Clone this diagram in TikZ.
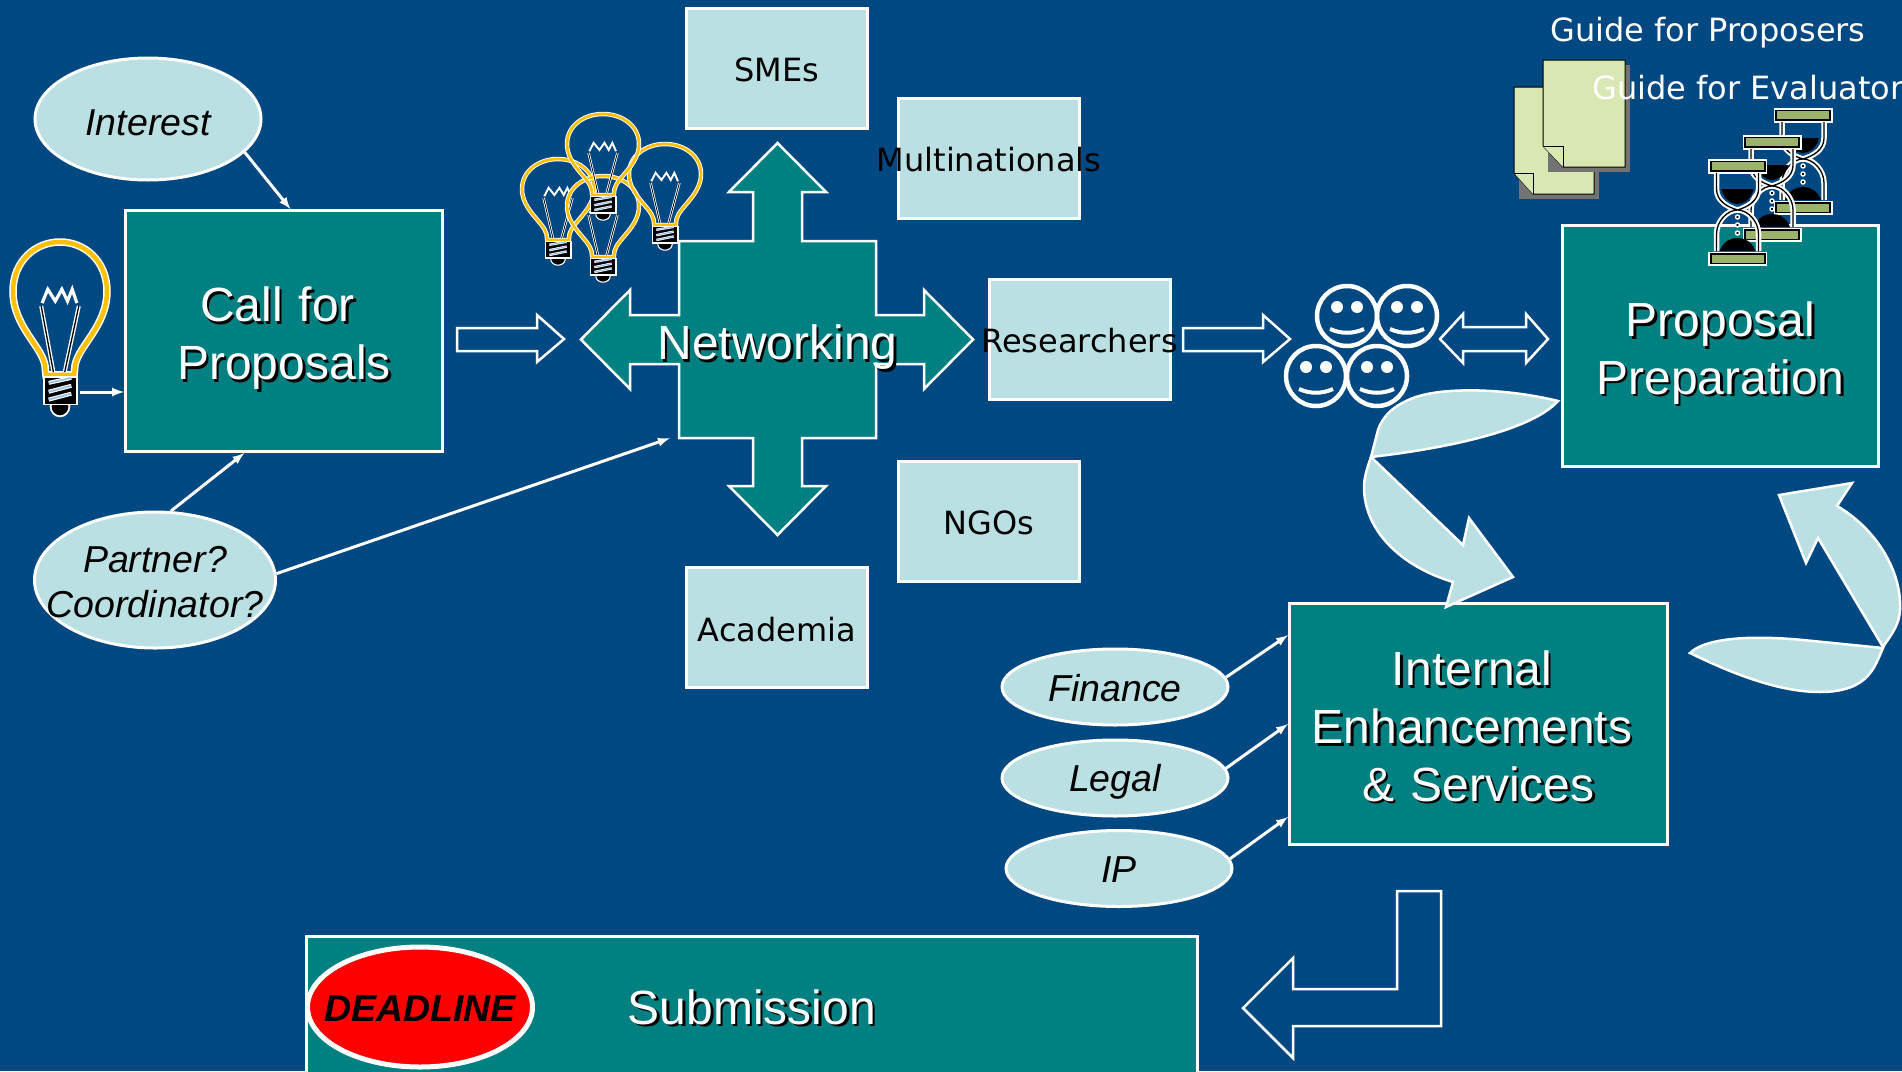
\documentclass[tikz,border=0pt]{standalone}
\usepackage{fontspec}
\setmainfont{Liberation Sans}
\newfontfamily\dejavu{DejaVu Sans}
\usepackage{xcolor}
\definecolor{deep-blue}{HTML}{004882}
\definecolor{deep-teal}{HTML}{008080}
\definecolor{pale-blue}{HTML}{BBE0E3}
\definecolor{pale-leaf}{HTML}{D9E8B3}
\definecolor{bar-green}{HTML}{9BB36B}
\definecolor{bulb-yellow}{HTML}{FFC000}
\definecolor{thread-blue}{HTML}{9DC3E6}
\usetikzlibrary{shapes.geometric}
\usetikzlibrary{positioning}
\usetikzlibrary{calc}
\tikzset{tealbox/.style = {draw=white, fill=deep-teal, line width=3, inner sep=0}}
\tikzset{palebox/.style = {draw=white, fill=pale-blue, line width=3, inner sep=0, minimum width=181, minimum height=120}}
\tikzset{paleoval/.style = {draw=white, fill=pale-blue, line width=3, inner sep=0, ellipse}}
\tikzset{boxtext/.style = {inner sep=0, align=center, font=\dejavu\fontsize{32}{38}\selectfont}}
\tikzset{ovaltext/.style = {inner sep=0, align=center, font=\itshape\fontsize{37.5}{45}\selectfont}}
\tikzset{bigtext/.style = {inner sep=0, align=center, text width=400, font=\fontsize{48}{57.6}\selectfont}}
\tikzset{guidetext/.style = {inner sep=0, text=white, font=\dejavu\fontsize{32}{38}\selectfont}}
\tikzset{arr/.style = {draw=white, line width=3, -latex}}
\tikzset{hollow/.style = {draw=white, line width=2.5, line join=miter}}
\tikzset{leaf/.style = {draw=white, fill=pale-blue, line width=2.5}}
\tikzset{page/.style = {draw=black, fill=pale-leaf, line width=1}}
\newcommand{\shadowed}[4]{
  \node[bigtext, text=black] (#1-shade) at ($(#2)+(2.5,#3+2.5)$) {#4};
  \node[bigtext, text=white] (#1) at ($(#2)+(0,#3)$) {#4};
}
\tikzset{pics/bulb/.style = {code = {
  \draw[white, line width=7.5*#1] (-15,135) -- (-16,125) .. controls (-20,105) and (-50,85) .. (-50,50)
    .. controls (-50,20) and (-27,0) .. (0,0) .. controls (27,0) and (50,20) .. (50,50)
    .. controls (50,85) and (20,105) .. (16,125) -- (15,135) -- cycle;
  \draw[bulb-yellow, line width=4.5*#1] (-15,135) -- (-16,125) .. controls (-20,105) and (-50,85) .. (-50,50)
    .. controls (-50,20) and (-27,0) .. (0,0) .. controls (27,0) and (50,20) .. (50,50)
    .. controls (50,85) and (20,105) .. (16,125) -- (15,135) -- cycle;
  \draw[white, line width=4*#1] (-20,65) -- (-7,132) (20,65) -- (5,132);
  \draw[black, line width=1.3*#1] (-20,65) -- (-7,132) (20,65) -- (5,132);
  \draw[white, line width=3.2*#1] (-19,62) -- (-13,48) -- (-5,60) -- (2,48) -- (8,60) -- (13,48) -- (18,62);
  \draw[white, fill=black, line width=1.8*#1] (0,167) circle (10);
  \draw[white, fill=black, line width=1.8*#1] (-17,137) rectangle (18,165);
  \draw[white, line width=4*#1] (-12,143) -- (12,138) (-12,152) -- (12,146) (-12,160) -- (12,154);
  \draw[thread-blue, line width=1.8*#1] (-12,143) -- (12,138) (-12,152) -- (12,146) (-12,160) -- (12,154);
}}}
\tikzset{pics/glass/.style = {code = {
  \foreach \bary in {0,92.5} {
    \fill[white] (-29.5,\bary) rectangle (29.5,\bary+14.5);
    \fill[black] (-28,\bary+1.8) rectangle (28,\bary+12.7);
    \fill[bar-green] (-26,\bary+3.4) rectangle (26,\bary+11.1);
  }
  \draw[white, line width=5.5] (-21,14) -- (-21,30) .. controls (-21,42) and (-10,48) .. (0,51)
    .. controls (10,48) and (21,42) .. (21,30) -- (21,14)
    (-21,92) -- (-21,75) .. controls (-21,62) and (-10,51) .. (0,51) .. controls (10,51) and (21,62) .. (21,75) -- (21,92);
  \draw[black, line width=1.3] (-21,14) -- (-21,30) .. controls (-21,42) and (-10,48) .. (0,51)
    .. controls (10,48) and (21,42) .. (21,30) -- (21,14)
    (-21,92) -- (-21,75) .. controls (-21,62) and (-10,51) .. (0,51) .. controls (10,51) and (21,62) .. (21,75) -- (21,92);
  \fill[black] (-16,30) -- (16,30) .. controls (14,40) and (6,45) .. (0,45) .. controls (-6,45) and (-14,40) .. (-16,30);
  \fill[black] (-18,92) .. controls (-14,82) and (-7,79) .. (0,79) .. controls (7,79) and (14,82) .. (18,92) -- cycle;
  \draw[white, fill=black, line width=1.4] (0,58) circle (2) (0,66) circle (2) (0,74) circle (2);
}}}
\tikzset{pics/smiley/.style = {code = {
  \draw[white, line width=4.5] (0,0) circle (30);
  \fill[white] (-10,-9) circle (6) (10,-9) circle (6);
  \draw[white, line width=4] (-17,13) .. controls (-6,18) and (6,18) .. (17,13);
}}}

\begin{document}
\begin{tikzpicture}[x=1pt, y=-1pt]
\useasboundingbox (0,0) rectangle (1902,1071);
\fill[deep-blue] (0,0) rectangle (1902,1071);

% left column
\node[paleoval, minimum width=226, minimum height=122] (interest) at (148,119) {};
\node[ovaltext] (interest-text) at ($(interest)+(0,3.5)$) {Interest};
\node[tealbox, minimum width=317, minimum height=241] (call) at (284,331) {};
\shadowed{call-text}{call}{7.3}{\mbox{Call for\hspace{13pt}}\\Proposals}
\node[paleoval, minimum width=241, minimum height=136] (partner) at (155,580) {};
\node[ovaltext] (partner-text) at ($(partner)+(0,2.5)$) {Partner?\\Coordinator?};
\pic[xscale=.94, yscale=.985] at (60,242) {bulb=1};
\coordinate (bulbfoot) at (80,392);

% networking cross
\draw[draw=white, fill=deep-teal, line width=2.5] (777.5,143) -- (826,192) -- (802,192) -- (802,241) -- (876,241) -- (876,315)
  -- (924,315) -- (924,290) -- (973,339.5) -- (924,389) -- (924,364) -- (876,364) -- (876,438) -- (802,438) -- (802,486)
  -- (826,486) -- (777.5,535) -- (729,486) -- (753,486) -- (753,438) -- (679,438) -- (679,364) -- (630,364) -- (630,389)
  -- (581,339.5) -- (630,290) -- (630,315) -- (679,315) -- (679,241) -- (753,241) -- (753,192) -- (729,192) -- cycle;
\node[minimum width=197, minimum height=197, inner sep=0] (net) at (777.5,339.5) {};
\shadowed{net-text}{net}{8}{Networking}
\pic[xscale=.72, yscale=.6] at (558,159) {bulb=.6};
\pic[xscale=.72, yscale=.6] at (603,176) {bulb=.6};
\pic[xscale=.72, yscale=.6] at (665,144) {bulb=.6};
\pic[xscale=.72, yscale=.6] at (603,114) {bulb=.6};

\node[palebox] (smes) at (777,68) {};
\node[boxtext] (smes-text) at ($(smes)+(0,1.4)$) {SMEs};
\node[palebox] (multi) at (989,158) {};
\node[boxtext] (multi-text) at (989,160) {Multinationals};
\node[palebox] (researchers) at (1079.5,339) {};
\node[boxtext] (researchers-text) at ($(researchers)+(0,1.4)$) {Researchers};
\node[palebox] (ngos) at (989,521.5) {};
\node[boxtext] (ngos-text) at ($(ngos)+(0,1.5)$) {NGOs};
\node[palebox] (academia) at (777,627) {};
\node[boxtext] (academia-text) at ($(academia)+(0,2.4)$) {Academia};

% right side
\pic at (1347,316) {smiley};
\pic at (1407,316) {smiley};
\pic at (1316,376) {smiley};
\pic at (1377,376) {smiley};
\node[tealbox, minimum width=316, minimum height=241] (proposal) at (1720.5,346) {};
\shadowed{proposal-text}{proposal}{7}{Proposal\\Preparation}

\fill[gray!90!black] (1518.5,91.5) rectangle (1598.5,198.5);
\draw[page] (1514,87) -- (1594,87) -- (1594,194) -- (1533,194) -- (1514,173) -- cycle;
\draw[page] (1514,173) -- (1533,173) -- (1533,194);
\fill[gray!90!black] (1547.5,64.5) rectangle (1629.5,171.5);
\draw[page] (1543,60) -- (1625,60) -- (1625,167) -- (1563,167) -- (1543,146) -- cycle;
\draw[page] (1543,146) -- (1563,146) -- (1563,167);
\pic at (1803,108) {glass};
\pic at (1772,135) {glass};
\pic at (1737.5,159) {glass};
\node[guidetext] (guide-a) at (1708,32.5) {Guide for Proposers};
\node[guidetext, anchor=west] (guide-b) at (1592,87.5) {Guide for Evaluator};

% lower right
\node[tealbox, minimum width=378, minimum height=241] (internal) at (1478.5,724) {};
\shadowed{internal-text}{internal}{2.4}{\mbox{Internal\hspace{13pt}}\\\mbox{Enhancements\hspace{13pt}}\\\& Services}
\node[paleoval, minimum width=226, minimum height=76] (finance) at (1115,687) {};
\node[ovaltext] (finance-text) at ($(finance)+(0,1)$) {Finance};
\node[paleoval, minimum width=226, minimum height=76, below=12pt of finance] (legal) {};
\node[ovaltext] (legal-text) at ($(legal)+(0,4)$) {Legal};
\node[paleoval, minimum width=226, minimum height=76, below=11.5pt of legal, xshift=4pt] (ip) {};
\node[ovaltext] (ip-text) at ($(ip)+(0,1)$) {IP};

% bottom bar
\node[tealbox, minimum width=891, minimum height=144] (submission) at (752,1008) {};
\shadowed{submission-text}{submission}{-1}{Submission}
\node[draw=white, fill=red, ellipse, line width=5, inner sep=0, minimum width=225, minimum height=120] (deadline) at (420,1007) {};
\node[ovaltext, font=\bfseries\itshape\fontsize{37.5}{45}\selectfont] (deadline-text) at ($(deadline)+(0,2)$) {DEADLINE};

% block arrows
\draw[hollow] (457,328) -- (537,328) -- (537,315) -- (564,339) -- (537,362) -- (537,351) -- (457,351) -- cycle;
\draw[hollow] (1183,328) -- (1263,328) -- (1263,315) -- (1290,339) -- (1263,362) -- (1263,351) -- (1183,351) -- cycle;
\draw[hollow] (1440,339) -- (1463,314) -- (1463,327) -- (1526,327) -- (1526,314) -- (1548,339) -- (1526,363) -- (1526,351) -- (1463,351) -- (1463,363) -- cycle;
\draw[hollow] (1243,1008) -- (1293,958) -- (1293,989) -- (1397,989) -- (1397,891) -- (1441,891) -- (1441,1026) -- (1293,1026) -- (1293,1058) -- cycle;

% curved arrows
\draw[leaf] (1558,401) .. controls (1510,389) and (1445,386) .. (1413,398) .. controls (1395,405) and (1383,415) .. (1378,430) -- (1371,457)
  .. controls (1440,449) and (1530,432) .. (1558,401) -- cycle;
\draw[leaf] (1371,457) -- (1463,545) -- (1469,518) -- (1513,577) -- (1446,607) -- (1453,582)
  .. controls (1400,566) and (1364,530) .. (1364,487) .. controls (1364,478) and (1367,468) .. (1371,457) -- cycle;
\draw[leaf] (1690,653) .. controls (1705,638) and (1750,635) .. (1803,640) -- (1883,648)
  .. controls (1875,665) and (1870,692) .. (1820,692) .. controls (1780,692) and (1735,675) .. (1690,653) -- cycle;
\draw[leaf] (1883,647) -- (1818,538) -- (1806,563) -- (1779,495) -- (1852,483) -- (1837,506)
  .. controls (1875,528) and (1902,570) .. (1900,610) .. controls (1899,625) and (1893,632) .. (1883,647) -- cycle;

\draw[arr] (interest.-19) -- (call.87);
\draw[arr] (partner.77) -- (call.252);
\draw[arr] (bulbfoot) -- (bulbfoot -| call.west);
\draw[arr] (partner.3) -- ($(net.south west)+(-9,0)$);
\draw[arr] (finance.5) -- (internal.155);
\draw[arr] (legal.5) -- (internal.west);
\draw[arr] (ip.5) -- (internal.206);

\end{tikzpicture}
\end{document}
